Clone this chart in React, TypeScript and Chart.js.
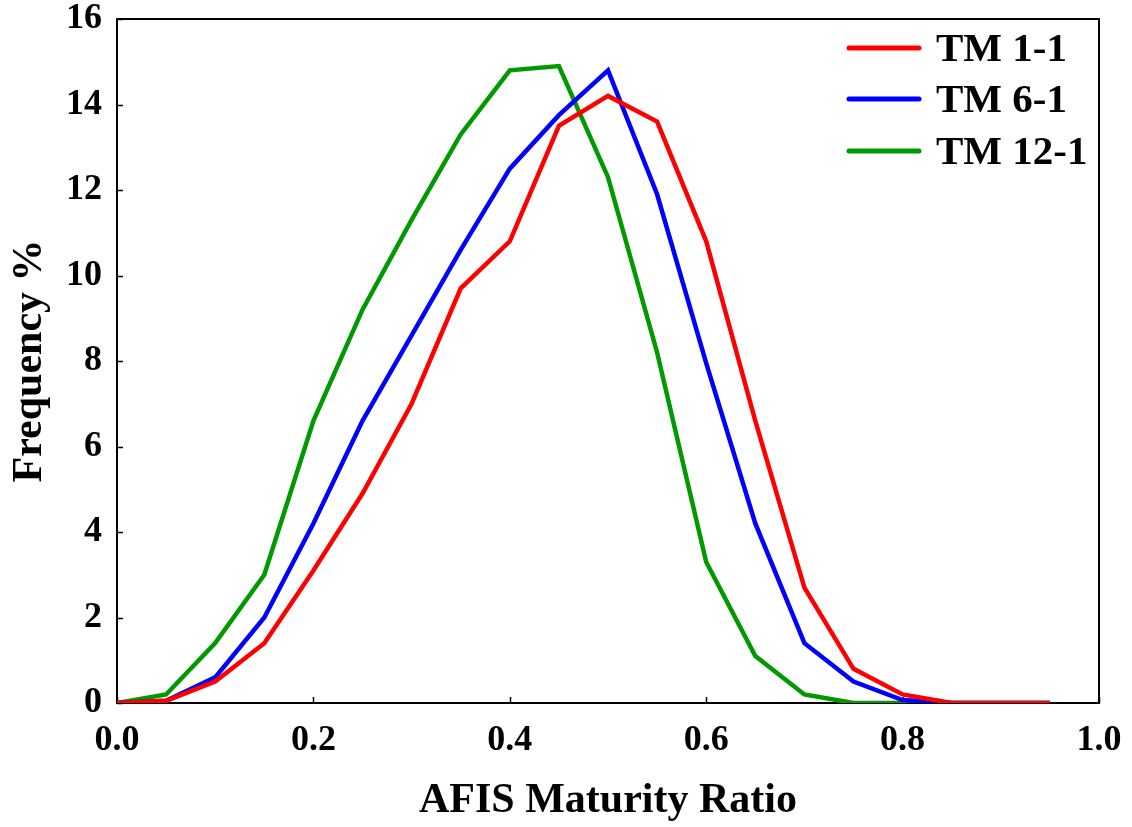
import { useEffect, useRef } from 'react';
import { Chart, registerables } from 'chart.js';

Chart.register(...registerables);

const ratios = [0, 0.05, 0.1, 0.15, 0.2, 0.25, 0.3, 0.35, 0.4, 0.45, 0.5, 0.55, 0.6, 0.65, 0.7, 0.75, 0.8, 0.85, 0.9, 0.95];
const tm11 = [0, 0.05, 0.5, 1.4, 3.1, 4.9, 7.0, 9.7, 10.8, 13.5, 14.2, 13.6, 10.8, 6.6, 2.7, 0.8, 0.2, 0, 0, 0];
const tm61 = [0, 0.05, 0.6, 2.0, 4.2, 6.6, 8.6, 10.6, 12.5, 13.75, 14.8, 11.9, 7.95, 4.2, 1.4, 0.5, 0.07, 0, 0, 0];
const tm121 = [0, 0.2, 1.4, 3.0, 6.6, 9.2, 11.3, 13.3, 14.8, 14.9, 12.3, 8.2, 3.3, 1.1, 0.2, 0, 0, 0, 0, 0];
const seriesNames = ['TM 1-1', 'TM 6-1', 'TM 12-1'];
const seriesColors = ['#ff0000', '#0000ff', '#009900'];
const xTitle = 'AFIS Maturity Ratio';
const yTitle = 'Frequency %';

const FONT = "'Liberation Serif', 'Times New Roman', serif";

const framePlugin = {
  id: 'frame',
  beforeDatasetsDraw(chart: any) {
    const { ctx, chartArea } = chart;
    const { left, right, top, bottom } = chartArea;
    ctx.save();
    ctx.strokeStyle = '#000';
    ctx.lineWidth = 2;
    ctx.strokeRect(left, top, right - left, bottom - top);
    ctx.lineWidth = 1.5;
    const xs = chart.scales.x;
    xs.ticks.forEach((t: any) => {
      const px = Math.round(xs.getPixelForValue(t.value)) + 0.5;
      ctx.beginPath();
      ctx.moveTo(px, bottom);
      ctx.lineTo(px, bottom - 6);
      ctx.stroke();
    });
    const ys = chart.scales.y;
    ys.ticks.forEach((t: any) => {
      const py = Math.round(ys.getPixelForValue(t.value)) + 0.5;
      ctx.beginPath();
      ctx.moveTo(left, py);
      ctx.lineTo(left + 6, py);
      ctx.stroke();
    });
    ctx.restore();
  },
};

const legendPlugin = {
  id: 'customLegend',
  afterDatasetsDraw(chart: any) {
    const { ctx } = chart;
    const x0 = 849;
    const x1 = 919;
    const tx = 936;
    const ys = [48, 99, 151];
    ctx.save();
    ctx.font = `bold 41px ${FONT}`;
    ctx.textBaseline = 'middle';
    ctx.textAlign = 'left';
    chart.data.datasets.forEach((ds: any, i: number) => {
      ctx.strokeStyle = ds.borderColor;
      ctx.lineWidth = 5;
      ctx.lineCap = 'round';
      ctx.beginPath();
      ctx.moveTo(x0, ys[i]);
      ctx.lineTo(x1, ys[i]);
      ctx.stroke();
      ctx.fillStyle = '#000';
      ctx.fillText(ds.label, tx, ys[i] + 2);
    });
    ctx.restore();
  },
};

export default function App() {
  const ref = useRef<HTMLCanvasElement>(null);
  useEffect(() => {
    document.body.style.margin = '0';
    const series = [tm11, tm61, tm121];
    const chart = new Chart(ref.current!, {
      type: 'line',
      data: {
        datasets: series.map((s, i) => ({
          label: seriesNames[i],
          data: ratios.map((r, j) => ({ x: r, y: s[j] })),
          borderColor: seriesColors[i],
          backgroundColor: seriesColors[i],
          borderWidth: 4.5,
          pointRadius: 0,
          tension: 0,
          fill: false,
        })),
      },
      options: {
        animation: false,
        responsive: false,
        maintainAspectRatio: false,
        layout: { padding: { top: 19, right: 33, left: 0, bottom: 0 } },
        plugins: { legend: { display: false }, tooltip: { enabled: false } },
        scales: {
          x: {
            type: 'linear',
            min: 0,
            max: 1,
            grid: { display: false, drawTicks: false },
            border: { display: false },
            ticks: {
              stepSize: 0.2,
              padding: 16,
              color: '#000',
              maxRotation: 0,
              font: { family: FONT, size: 36, weight: 'bold' },
              callback: (v: any) => Number(v).toFixed(1),
            },
            title: {
              display: true,
              text: xTitle,
              color: '#000',
              padding: { top: 0, bottom: 1 },
              font: { family: FONT, size: 42, weight: 'bold' },
            },
            afterFit: (s: any) => { s.height = 124; s.paddingLeft = 0; s.paddingRight = 0; },
          },
          y: {
            min: 0,
            max: 16,
            grid: { display: false, drawTicks: false },
            border: { display: false },
            ticks: {
              stepSize: 2,
              padding: 15,
              color: '#000',
              font: { family: FONT, size: 36, weight: 'bold' },
            },
            title: {
              display: true,
              text: yTitle,
              color: '#000',
              padding: { top: 5, bottom: 0 },
              font: { family: FONT, size: 42, weight: 'bold' },
            },
            afterFit: (s: any) => { s.width = 117; s.paddingTop = 0; s.paddingBottom = 0; },
          },
        },
      } as any,
      plugins: [framePlugin, legendPlugin],
    });
    return () => chart.destroy();
  }, []);
  return (
    <div style={{ position: 'absolute', left: 0, top: 0, width: 1132, height: 827, background: '#fff' }}>
      <canvas ref={ref} width={1132} height={827} style={{ display: 'block' }} />
    </div>
  );
}
